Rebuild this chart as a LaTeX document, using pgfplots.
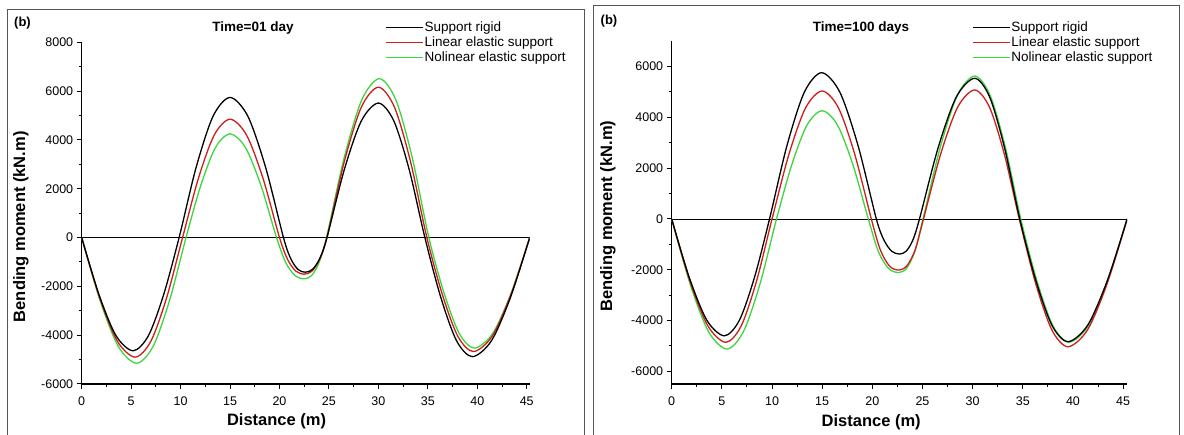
\documentclass[border=0pt]{standalone}
\usepackage{pgfplots}
\pgfplotsset{compat=1.18}
\usepackage{fontspec}
\setmainfont{Liberation Sans}
\definecolor{cRed}{RGB}{205,30,30}
\definecolor{cGreen}{RGB}{60,215,60}
\definecolor{frameGray}{RGB}{85,85,85}
\pgfplotsset{legend image code/.code={\draw[#1] (0bp,0bp) -- (37bp,0bp);}}
\pgfplotsset{
 panel/.style={
  scale only axis, anchor=south west,
  axis x line*=bottom, axis y line*=left,
  axis line style={line width=1.2bp, black, -},
  xmin=0, xtick={0,5,...,45}, minor x tick num=1,
  minor y tick num=1,
  tick align=outside, major tick length=5bp, minor tick length=3bp,
  every tick/.style={line width=1bp, black},
  /pgf/number format/assume math mode=true,
  /pgf/number format/1000 sep={},
  scaled y ticks=false,
  ticklabel style={font=\fontsize{12.5bp}{14bp}\selectfont},
  xticklabel style={yshift=-4bp},
  label style={font=\bfseries\fontsize{16.5bp}{19bp}\selectfont},
  xlabel={Distance (m)}, ylabel={Bending moment (kN.m)},
  legend cell align=left,
  legend style={draw=none, fill=none, anchor=north west,
    font=\fontsize{13.5bp}{16bp}\selectfont, row sep=0pt, inner sep=0pt,
    nodes={inner sep=1bp, text height=10bp, text depth=3bp}},
  reverse legend,
 }
}
\begin{document}
\begin{tikzpicture}[x=1bp,y=1bp]
\useasboundingbox (0,0) rectangle (1184,435);
\fill[white] (0,0) rectangle (1184,435);
\draw[frameGray, line width=1bp] (7.3,-5) -- (7.3,425.7) -- (584,425.7) -- (584,-5);
\draw[frameGray, line width=1bp] (593,-5) -- (593,429) -- (1179.5,429) -- (1179.5,-5);
\node[font=\bfseries\fontsize{13bp}{15bp}\selectfont] at (22.5,412) {(b)};
\node[font=\bfseries\fontsize{13bp}{15bp}\selectfont] at (609,414) {(b)};
\node[font=\bfseries\fontsize{13.5bp}{15bp}\selectfont] at (253,407) {Time=01 day};
\node[font=\bfseries\fontsize{13.5bp}{15bp}\selectfont] at (861,407) {Time=100 days};

\begin{axis}[panel, at={(81.7bp,51bp)}, width=448bp, height=341.7bp,
  xmax=45.3, ymin=-6000, ymax=8000, ytick={-6000,-4000,...,8000},
  xlabel style={at={(axis description cs:0.435,-0.11)}, anchor=center},
  ylabel style={at={(axis description cs:-0.136,0.46)}, anchor=center},
  legend style={at={(0.677,1.065)}}]
\addplot[black, line width=0.8bp, forget plot] coordinates {(0,0) (45.3,0)};
\addplot[cGreen, line width=1.3bp, smooth] coordinates {(0,0) (1.85,-2575) (3.7,-4460) (5.55,-5150) (7.217,-4460) (8.883,-2575) (10.55,0) (12.033,2125) (13.517,3681) (15,4250) (16.567,3681) (18.133,2125) (19.7,0) (20.633,-1024) (21.567,-1555) (22.5,-1690) (23.25,-1555) (24,-1024) (24.75,0) (26.533,3255) (28.317,5638) (30.1,6510) (31.767,5638) (33.433,3255) (35.1,0) (36.633,-2265) (38.167,-3923) (39.7,-4530) (41.567,-3923) (43.433,-2265) (45.3,0)};
\addplot[cRed, line width=1.3bp, smooth] coordinates {(0,0) (1.8,-2450) (3.6,-4243) (5.4,-4900) (7,-4243) (8.6,-2450) (10.2,0) (11.8,2425) (13.4,4200) (15,4850) (16.667,4200) (18.333,2425) (20,0) (20.833,-909) (21.667,-1380) (22.5,-1500) (23.267,-1380) (24.033,-909) (24.8,0) (26.533,3080) (28.267,5335) (30,6160) (31.633,5335) (33.267,3080) (34.9,0) (36.467,-2335) (38.033,-4044) (39.6,-4670) (41.5,-4044) (43.4,-2335) (45.3,0)};
\addplot[black, line width=1.3bp, smooth] coordinates {(0,0) (1.733,-2320) (3.467,-4018) (5.2,-4640) (6.75,-4018) (8.3,-2320) (9.85,0) (11.567,2870) (13.283,4971) (15,5740) (16.8,4971) (18.6,2870) (20.4,0) (21.133,-860) (21.867,-1306) (22.6,-1420) (23.333,-1306) (24.067,-860) (24.8,0) (26.533,2755) (28.267,4772) (30,5510) (31.567,4772) (33.133,2755) (34.7,0) (36.3,-2440) (37.9,-4226) (39.5,-4880) (41.433,-4226) (43.367,-2440) (45.3,0)};
\legend{Nolinear elastic support, Linear elastic support, Support rigid}
\end{axis}

\begin{axis}[panel, at={(671.7bp,50.9bp)}, width=455.4bp, height=342.9bp,
  xmax=45.4, ymin=-6500, ymax=7000, ytick={-6000,-4000,...,6000},
  xlabel style={at={(axis description cs:0.438,-0.11)}, anchor=center},
  ylabel style={at={(axis description cs:-0.14,0.49)}, anchor=center},
  legend style={at={(0.659,1.062)}}]
\addplot[black, line width=0.8bp, forget plot] coordinates {(0,0) (45.4,0)};
\addplot[cGreen, line width=1.3bp, smooth] coordinates {(0,0) (1.833,-2560) (3.667,-4434) (5.5,-5120) (7.15,-4434) (8.8,-2560) (10.45,0) (11.967,2133) (13.483,3693) (15,4265) (16.533,3693) (18.067,2133) (19.6,0) (20.6,-1279) (21.6,-1941) (22.6,-2110) (23.417,-1941) (24.233,-1279) (25.05,0) (26.767,2815) (28.483,4876) (30.2,5630) (31.733,4876) (33.267,2815) (34.8,0) (36.4,-2425) (38,-4200) (39.6,-4850) (41.533,-4200) (43.467,-2425) (45.4,0)};
\addplot[cRed, line width=1.3bp, smooth] coordinates {(0,0) (1.8,-2428) (3.6,-4205) (5.4,-4855) (6.933,-4205) (8.467,-2428) (10,0) (11.667,2520) (13.333,4365) (15,5040) (16.633,4365) (18.267,2520) (19.9,0) (20.8,-1218) (21.7,-1849) (22.6,-2010) (23.433,-1849) (24.267,-1218) (25.1,0) (26.8,2540) (28.5,4399) (30.2,5080) (31.683,4399) (33.167,2540) (34.65,0) (36.267,-2515) (37.883,-4356) (39.5,-5030) (41.467,-4356) (43.433,-2515) (45.4,0)};
\addplot[black, line width=1.3bp, smooth] coordinates {(0,0) (1.75,-2300) (3.5,-3984) (5.25,-4600) (6.75,-3984) (8.25,-2300) (9.75,0) (11.483,2880) (13.217,4988) (14.95,5760) (16.767,4988) (18.583,2880) (20.4,0) (21.167,-836) (21.933,-1270) (22.7,-1380) (23.367,-1270) (24.033,-836) (24.7,0) (26.533,2770) (28.367,4798) (30.2,5540) (31.7,4798) (33.2,2770) (34.7,0) (36.3,-2415) (37.9,-4183) (39.5,-4830) (41.467,-4183) (43.433,-2415) (45.4,0)};
\legend{Nolinear elastic support, Linear elastic support, Support rigid}
\end{axis}
\end{tikzpicture}
\end{document}
